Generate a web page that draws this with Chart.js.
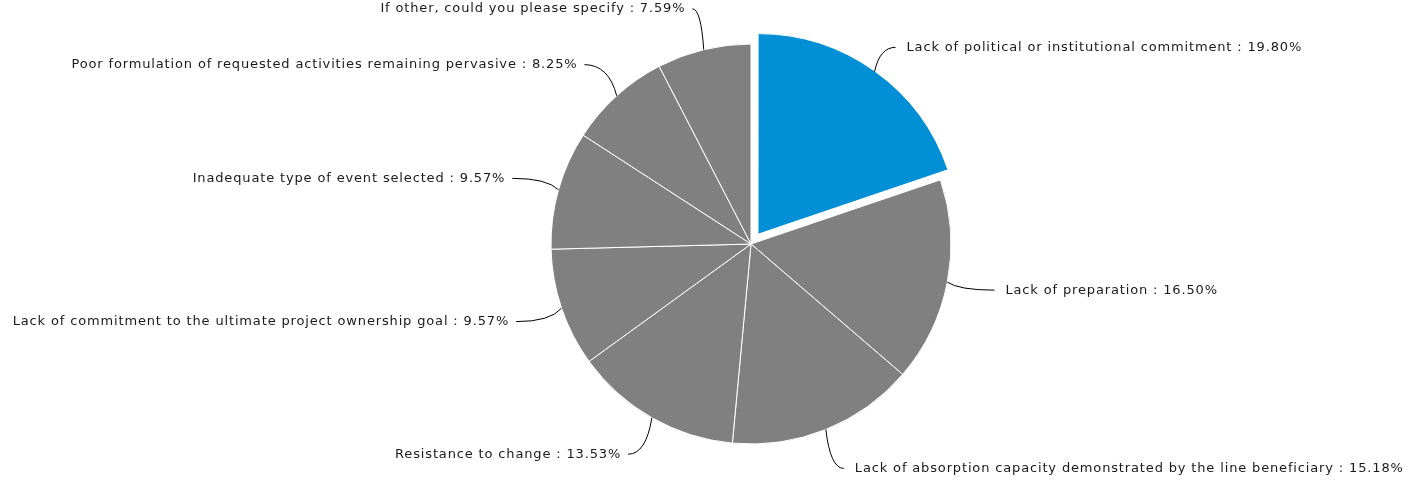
<!DOCTYPE html>
<html>
<head>
<meta charset="utf-8">
<script src="https://cdn.jsdelivr.net/npm/chart.js@4.4.1/dist/chart.umd.min.js"></script>
<style>
  html, body { margin: 0; padding: 0; background: #fff; }
  #wrap { width: 1418px; height: 484px; }
</style>
</head>
<body>
<div id="wrap"><canvas id="pie"></canvas></div>
<script>
// data
const categories = [
  'Lack of political or institutional commitment',
  'Lack of preparation',
  'Lack of absorption capacity demonstrated by the line beneficiary',
  'Resistance to change',
  'Lack of commitment to the ultimate project ownership goal',
  'Inadequate type of event selected',
  'Poor formulation of requested activities remaining pervasive',
  'If other, could you please specify'
];
const shares = [19.80, 16.50, 15.18, 13.53, 9.57, 9.57, 8.25, 7.59];

// first slice is pulled out of the pie
const explodePx = 12;
const sliceColors = shares.map((v, i) => i === 0 ? '#038fd5' : '#808080');
// chart.js moves an arc by offset / 4
const sliceOffsets = shares.map((v, i) => i === 0 ? explodePx * 4 : 0);

// labels with curved connector lines
const outsideLabels = {
  id: 'outsideLabels',
  afterDatasetsDraw(chart) {
    const ctx = chart.ctx;
    const meta = chart.getDatasetMeta(0);
    ctx.save();
    ctx.font = '13px "DejaVu Sans", sans-serif';
    ctx.letterSpacing = '0.85px';
    ctx.textBaseline = 'middle';
    ctx.strokeStyle = '#000';
    ctx.fillStyle = '#1a1a1a';
    ctx.lineWidth = 1;
    meta.data.forEach((arc, i) => {
      const p = arc.getProps(['x', 'y', 'startAngle', 'endAngle', 'outerRadius']);
      const mid = (p.startAngle + p.endAngle) / 2;
      const off = i === 0 ? explodePx : 0;
      const cx = p.x + Math.cos(mid) * off;
      const cy = p.y + Math.sin(mid) * off;
      const sx = cx + Math.cos(mid) * p.outerRadius;
      const sy = cy + Math.sin(mid) * p.outerRadius;
      const ex = p.x + Math.cos(mid) * (p.outerRadius + 48);
      const ey = p.y + Math.sin(mid) * (p.outerRadius + 42);
      const right = Math.cos(mid) >= 0;
      ctx.beginPath();
      ctx.moveTo(sx, sy);
      ctx.quadraticCurveTo(sx + (ex - sx) * 0.25, ey, ex, ey);
      ctx.stroke();
      const txt = categories[i] + ' : ' + shares[i].toFixed(2) + '%';
      ctx.textAlign = right ? 'left' : 'right';
      ctx.fillText(txt, right ? ex + 11 : ex - 7, ey);
    });
    ctx.restore();
  }
};

new Chart(document.getElementById('pie'), {
  type: 'pie',
  data: {
    labels: categories,
    datasets: [{
      data: shares,
      backgroundColor: sliceColors,
      borderColor: '#ffffff',
      borderWidth: 1,
      offset: sliceOffsets,
      radius: 200
    }]
  },
  options: {
    responsive: true,
    maintainAspectRatio: false,
    animation: false,
    layout: { padding: { left: 84, right: 0, top: 4, bottom: 0 } },
    plugins: {
      legend: { display: false },
      tooltip: { enabled: false }
    }
  },
  plugins: [outsideLabels]
});
</script>
</body>
</html>
